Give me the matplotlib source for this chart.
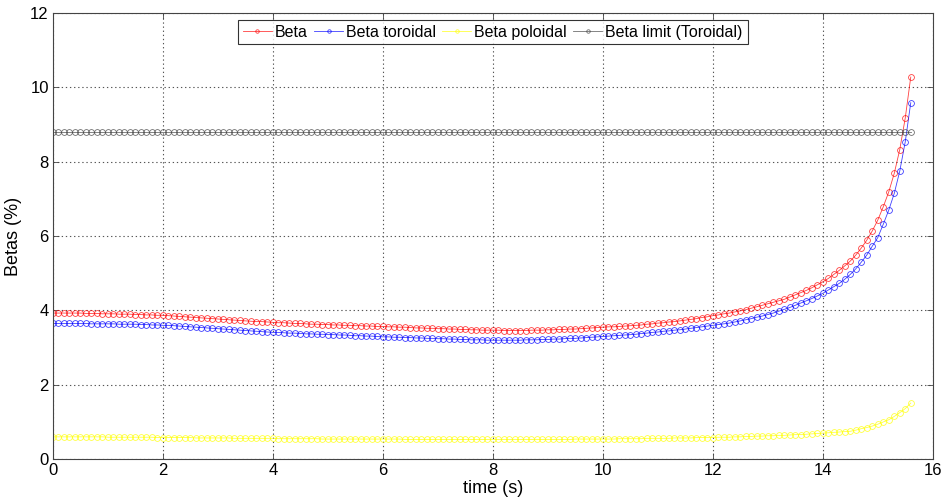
import numpy as np
import matplotlib
matplotlib.use("Agg")
import matplotlib.pyplot as plt

plt.rcParams['font.family'] = ['Liberation Sans', 'DejaVu Sans']

time_start = 0.0
time_step = 0.1

beta = [
    3.93, 3.93, 3.93, 3.93, 3.93, 3.93, 3.92, 3.92, 3.92, 3.91,
    3.91, 3.91, 3.90, 3.90, 3.90, 3.89, 3.89, 3.88, 3.88, 3.87,
    3.87, 3.86, 3.85, 3.84, 3.83, 3.82, 3.81, 3.80, 3.79, 3.78,
    3.77, 3.76, 3.75, 3.74, 3.73, 3.72, 3.71, 3.70, 3.70, 3.69,
    3.68, 3.67, 3.67, 3.66, 3.65, 3.65, 3.64, 3.63, 3.63, 3.62,
    3.62, 3.61, 3.61, 3.60, 3.60, 3.59, 3.59, 3.58, 3.58, 3.57,
    3.57, 3.56, 3.56, 3.55, 3.55, 3.54, 3.53, 3.53, 3.52, 3.52,
    3.51, 3.51, 3.50, 3.50, 3.49, 3.49, 3.48, 3.48, 3.47, 3.47,
    3.47, 3.47, 3.46, 3.46, 3.46, 3.46, 3.46, 3.47, 3.47, 3.47,
    3.48, 3.48, 3.49, 3.49, 3.50, 3.50, 3.51, 3.52, 3.53, 3.54,
    3.55, 3.56, 3.56, 3.57, 3.58, 3.59, 3.60, 3.61, 3.63, 3.64,
    3.66, 3.67, 3.69, 3.70, 3.72, 3.74, 3.76, 3.78, 3.81, 3.83,
    3.86, 3.88, 3.91, 3.93, 3.96, 3.99, 4.02, 4.06, 4.10, 4.14,
    4.18, 4.22, 4.26, 4.30, 4.36, 4.42, 4.48, 4.54, 4.61, 4.69,
    4.77, 4.86, 4.97, 5.08, 5.20, 5.33, 5.49, 5.68, 5.89, 6.14,
    6.43, 6.79, 7.19, 7.69, 8.33, 9.18, 10.28,
]

beta_toroidal = [
    3.65, 3.65, 3.65, 3.65, 3.65, 3.65, 3.65, 3.64, 3.64, 3.64,
    3.64, 3.64, 3.63, 3.63, 3.63, 3.63, 3.62, 3.62, 3.61, 3.61,
    3.60, 3.60, 3.59, 3.58, 3.57, 3.56, 3.55, 3.54, 3.53, 3.52,
    3.51, 3.50, 3.49, 3.48, 3.47, 3.46, 3.45, 3.44, 3.43, 3.42,
    3.41, 3.41, 3.40, 3.39, 3.39, 3.38, 3.37, 3.37, 3.36, 3.36,
    3.35, 3.35, 3.34, 3.34, 3.33, 3.32, 3.32, 3.31, 3.31, 3.30,
    3.29, 3.29, 3.28, 3.28, 3.27, 3.27, 3.26, 3.26, 3.25, 3.25,
    3.24, 3.24, 3.23, 3.23, 3.22, 3.22, 3.21, 3.21, 3.21, 3.20,
    3.20, 3.20, 3.20, 3.20, 3.20, 3.20, 3.21, 3.21, 3.21, 3.22,
    3.22, 3.23, 3.23, 3.24, 3.25, 3.25, 3.26, 3.27, 3.28, 3.29,
    3.30, 3.31, 3.32, 3.33, 3.34, 3.35, 3.36, 3.38, 3.39, 3.41,
    3.42, 3.44, 3.45, 3.47, 3.48, 3.50, 3.52, 3.54, 3.56, 3.58,
    3.60, 3.62, 3.64, 3.66, 3.69, 3.72, 3.75, 3.78, 3.82, 3.85,
    3.89, 3.93, 3.98, 4.03, 4.08, 4.14, 4.20, 4.26, 4.32, 4.39,
    4.46, 4.55, 4.64, 4.73, 4.84, 4.97, 5.12, 5.30, 5.49, 5.73,
    5.96, 6.32, 6.70, 7.15, 7.75, 8.54, 9.59,
]

beta_poloidal = [
    0.60, 0.60, 0.60, 0.60, 0.60, 0.60, 0.60, 0.60, 0.60, 0.60,
    0.59, 0.59, 0.59, 0.59, 0.59, 0.59, 0.59, 0.59, 0.59, 0.58,
    0.58, 0.58, 0.58, 0.58, 0.58, 0.58, 0.57, 0.57, 0.57, 0.57,
    0.57, 0.57, 0.57, 0.56, 0.56, 0.56, 0.56, 0.56, 0.56, 0.56,
    0.56, 0.55, 0.55, 0.55, 0.55, 0.55, 0.55, 0.55, 0.55, 0.54,
    0.54, 0.54, 0.54, 0.54, 0.54, 0.54, 0.54, 0.54, 0.54, 0.54,
    0.54, 0.54, 0.54, 0.54, 0.53, 0.53, 0.53, 0.53, 0.53, 0.53,
    0.53, 0.53, 0.53, 0.53, 0.53, 0.53, 0.53, 0.53, 0.53, 0.53,
    0.53, 0.53, 0.53, 0.53, 0.53, 0.53, 0.53, 0.53, 0.53, 0.53,
    0.53, 0.53, 0.53, 0.53, 0.53, 0.54, 0.54, 0.54, 0.54, 0.54,
    0.54, 0.54, 0.54, 0.55, 0.55, 0.55, 0.55, 0.55, 0.56, 0.56,
    0.56, 0.56, 0.56, 0.57, 0.57, 0.57, 0.57, 0.58, 0.58, 0.58,
    0.58, 0.59, 0.59, 0.59, 0.60, 0.60, 0.61, 0.61, 0.62, 0.62,
    0.63, 0.63, 0.64, 0.64, 0.65, 0.66, 0.66, 0.67, 0.68, 0.69,
    0.70, 0.71, 0.72, 0.73, 0.74, 0.75, 0.78, 0.82, 0.85, 0.89,
    0.94, 1.00, 1.06, 1.15, 1.25, 1.36, 1.51,
]

beta_limit_value = 8.8

labels = ['Beta', 'Beta toroidal', 'Beta poloidal', 'Beta limit (Toroidal)']
colors = ['#ff0000', '#0000ff', '#ffff00', '#404040']

x_ticks = [0, 2, 4, 6, 8, 10, 12, 14, 16]
y_ticks = [0, 2, 4, 6, 8, 10, 12]

n = len(beta)
time = time_start + time_step * np.arange(n)
beta_limit = [beta_limit_value] * n

fig = plt.figure(figsize=(9.46, 5.04), dpi=100)
ax = fig.add_axes([0.056, 0.089, 0.930, 0.885])

series = [beta, beta_toroidal, beta_poloidal, beta_limit]
for vals, lab, col in zip(series, labels, colors):
    ax.plot(time, vals, '-', color=col, lw=0.6, marker='o', ms=4.2,
            mfc='none', mec=col, mew=0.6, alpha=0.75, label=lab)

ax.set_xlim(0, 16)
ax.set_ylim(0, 12)
ax.set_xticks(x_ticks)
ax.set_yticks(y_ticks)
ax.tick_params(direction='in', top=True, right=True, labelsize=12,
               length=4, width=0.6, color='#444444', pad=3)
for sp in ax.spines.values():
    sp.set_color('#444444')
    sp.set_linewidth(0.8)
ax.grid(True, color='#555555', linestyle=(0, (1.2, 2.5)), linewidth=0.8)
ax.set_axisbelow(True)

ax.set_xlabel('time (s)', fontsize=13, labelpad=1)
ax.set_ylabel('Betas (%)', fontsize=13, labelpad=6)

leg = ax.legend(loc='upper center', bbox_to_anchor=(0.5, 0.985), ncol=4,
                fontsize=11.5, frameon=True, fancybox=False, edgecolor='black',
                handlelength=1.8, handletextpad=0.2, columnspacing=0.4,
                borderpad=0.3, borderaxespad=0.0, markerscale=0.6)
leg.get_frame().set_linewidth(0.8)

fig.savefig('out.png', dpi=100)
